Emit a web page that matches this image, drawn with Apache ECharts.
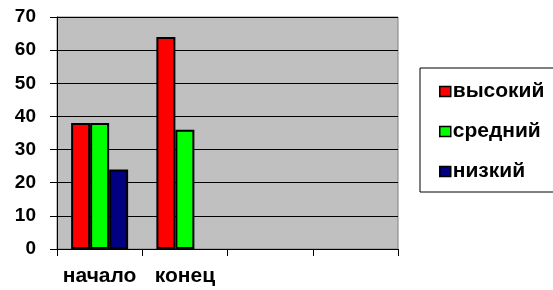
<!DOCTYPE html>
<html>
<head>
<meta charset="utf-8">
<script src="https://cdn.jsdelivr.net/npm/echarts@6/dist/echarts.min.js"></script>
<style>
  html, body { margin: 0; padding: 0; background: #fff; }
  #chart { width: 553px; height: 290px; }
</style>
</head>
<body>
<div id="chart"></div>
<script>
const categories = ['начало', 'конец', '', '']
const seriesNames = ['высокий', 'средний', 'низкий']
const vysokiy = [38, 64, null, null]
const sredniy = [38, 36, null, null]
const nizkiy = [24, null, null, null]
const colors = ['#ff0000', '#00ff00', '#000080']
const yTicks = { min: 0, max: 70, interval: 10 }

const font = 'Liberation Sans, Arial, sans-serif'
const chart = echarts.init(document.getElementById('chart'))

const values = [vysokiy, sredniy, nizkiy]
const series = seriesNames.map((name, i) => ({
  name,
  type: 'bar',
  data: values[i],
  barWidth: 19,
  barGap: '0%',
  itemStyle: {
    color: colors[i],
    borderColor: '#000',
    borderWidth: 2,
  },
}))

chart.setOption({
  animation: false,
  textStyle: { fontFamily: font },
  grid: {
    left: 57,
    right: 155,
    top: 17,
    bottom: 41,
    show: true,
    backgroundColor: '#c0c0c0',
    borderColor: '#808080',
    borderWidth: 1,
  },
  legend: {
    orient: 'vertical',
    left: 420,
    top: 68,
    padding: [13, 14, 10, 19],
    borderColor: '#000',
    borderWidth: 1,
    itemWidth: 11,
    itemHeight: 10,
    itemGap: 19,
    icon: 'rect',
    data: seriesNames.map((name, i) => ({
      name,
      itemStyle: { color: colors[i], borderColor: '#000', borderWidth: 1.5 },
    })),
    textStyle: {
      fontFamily: font,
      fontWeight: 'bold',
      fontSize: 21,
      color: '#000',
      padding: [0, 0, 0, -3],
    },
  },
  xAxis: {
    type: 'category',
    data: categories,
    axisLine: { lineStyle: { color: '#000', width: 1 } },
    axisTick: { show: true, alignWithLabel: false, length: 7, lineStyle: { color: '#000' } },
    axisLabel: {
      interval: 0,
      margin: 17,
      fontFamily: font,
      fontWeight: 'bold',
      fontSize: 21,
      color: '#000',
    },
  },
  yAxis: {
    type: 'value',
    min: yTicks.min,
    max: yTicks.max,
    interval: yTicks.interval,
    axisLine: { show: true, lineStyle: { color: '#000', width: 1 } },
    axisTick: { show: true, length: 7, lineStyle: { color: '#000' } },
    splitLine: { show: true, lineStyle: { color: '#000', width: 1 } },
    axisLabel: {
      margin: 21,
      fontFamily: font,
      fontWeight: 'bold',
      fontSize: 19,
      color: '#000',
    },
  },
  series,
})
</script>
</body>
</html>
